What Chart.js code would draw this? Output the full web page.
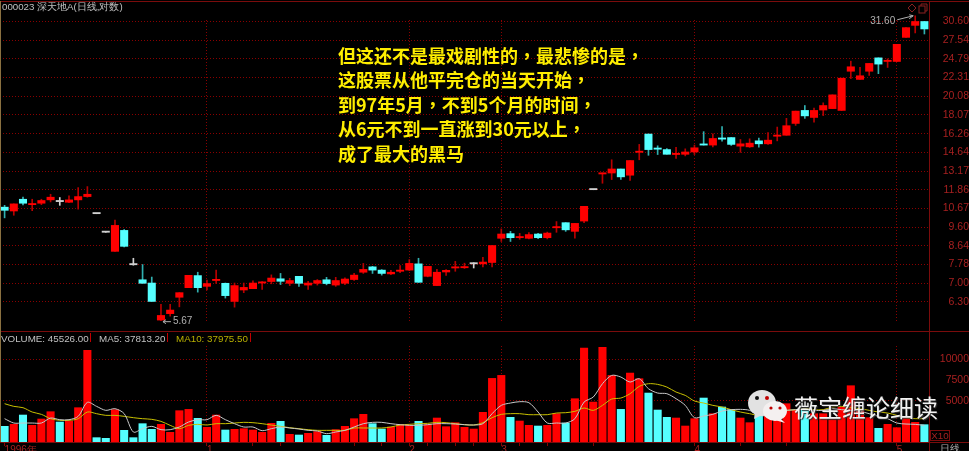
<!DOCTYPE html>
<html lang="zh">
<head>
<meta charset="utf-8">
<title>000023 深天地A</title>
<script src="https://cdn.jsdelivr.net/npm/chart.js@4/dist/chart.umd.min.js"></script>
<style>
html, body { margin: 0; padding: 0; background: #000; }
#stage { position: relative; width: 969px; height: 451px; overflow: hidden; background: #000; font-family: "Liberation Sans", Arial, sans-serif; }
#stage canvas { position: absolute; left: 0; }
.rule { position: absolute; background: #7a0c0c; }
.txt { position: absolute; white-space: nowrap; font-size: 9.8px; line-height: 12px; color: #c0c0c0; }
.up { position: absolute; top: 333px; width: 1px; height: 9px; background: #c00000; }
#story { position: absolute; left: 338px; top: 43px; color: #ffee00; font: 700 18px/24.4px "Noto Sans CJK TC", sans-serif; white-space: pre; }
#mark { position: absolute; left: 794px; top: 392px; color: #f2f2f2; font: 400 24px/30px "Noto Sans CJK SC", sans-serif; text-shadow: 1px 1px 1px #333; white-space: nowrap; }
</style>
</head>
<body>
<div id="stage">
  <canvas id="priceChart" width="969" height="331" style="top:0"></canvas>
  <canvas id="volumeChart" width="969" height="120" style="top:331px"></canvas>

  <div class="rule" style="left:0;top:1px;width:969px;height:1px"></div>
  <div class="rule" style="left:0;top:331px;width:969px;height:1px"></div>
  <div class="rule" style="left:0;top:442px;width:969px;height:1px"></div>
  <div class="rule" style="left:929px;top:1px;width:1px;height:450px"></div>
  <div class="rule" style="left:0;top:1px;width:1px;height:441px;background:#8a7040"></div>

  <div class="txt" style="left:2px;top:1px;font-size:9.7px">000023 深天地A(日线,对数)</div>
  <div class="txt" style="left:1px;top:333px">VOLUME: 45526.00</div><div class="up" style="left:90px"></div>
  <div class="txt" style="left:99px;top:333px">MA5: 37813.20</div><div class="up" style="left:167px"></div>
  <div class="txt" style="left:176px;top:333px;color:#b8b000">MA10: 37975.50</div><div class="up" style="left:250px"></div>
  <div class="txt" style="left:930px;top:430px;width:18px;height:9px;border:1px solid #7a0c0c;color:#a02020;line-height:9px;text-align:center">X10</div>
  <div class="txt" style="left:940px;top:443px;color:#b0b0b0">日线</div>

  <svg style="position:absolute;left:905px;top:3px" width="24" height="12" viewBox="0 0 24 12" fill="none" stroke="#8a2020">
    <path d="M7 1 L11 5 L7 9 L3 5 Z"/>
    <rect x="14" y="3" width="6" height="7"/>
    <path d="M16 3 V1 H22 V8 H20"/>
  </svg>

  <div id="story" lang="zh-TW">但这还不是最戏剧性的，最悲惨的是，
这股票从他平完仓的当天开始，
到97年5月，不到5个月的时间，
从6元不到一直涨到30元以上，
成了最大的黑马</div>

  <svg style="position:absolute;left:747px;top:389px" width="44" height="40" viewBox="0 0 44 40">
    <ellipse cx="15" cy="14" rx="14" ry="13" fill="#e2e2e2"/>
    <path d="M8 23 L7 30 L15 26 Z" fill="#e2e2e2"/>
    <circle cx="10" cy="9" r="2" fill="#111"/>
    <circle cx="20" cy="9" r="2" fill="#c00000"/>
    <ellipse cx="28" cy="22" rx="12" ry="10" fill="#f4f0f0"/>
    <path d="M33 29 L38 34 L28 31 Z" fill="#f4f0f0"/>
    <circle cx="24" cy="19" r="1.6" fill="#c00000"/>
    <circle cx="33" cy="19" r="1.6" fill="#c00000"/>
  </svg>
  <div id="mark">薇宝缠论细读</div>
</div>

<script>
'use strict';

// ─── Data ────────────────────────────────────────────────────────────────────

var opens = [
    10.75, 10.52, 11.24, 10.90, 10.99, 11.20, 11.09, 11.05, 11.20, 11.41,
    10.36, 9.33, 8.38, 9.43, 7.77, 7.14, 7.01, 5.69, 5.90, 6.47,
    6.83, 7.31, 6.88, 7.11, 7.00, 6.32, 6.74, 6.79, 7.01, 7.07,
    7.18, 7.00, 7.28, 6.93, 7.00, 7.14, 6.93, 7.00, 7.15, 7.45,
    7.68, 7.54, 7.38, 7.49, 7.54, 7.81, 7.28, 6.91, 7.46, 7.63,
    7.64, 7.81, 7.81, 7.87, 9.02, 9.26, 9.05, 9.02, 9.24, 9.05,
    9.57, 9.85, 9.38, 9.94, 11.86, 12.96, 13.03, 13.33, 12.87, 14.64,
    16.23, 14.96, 14.87, 14.46, 14.48, 14.67, 15.31, 15.25, 15.86, 15.91,
    15.16, 15.10, 15.62, 15.36, 16.03, 16.12, 17.23, 18.54, 17.82, 18.58,
    18.73, 18.54, 23.12, 22.08, 23.12, 24.93, 24.43, 24.43, 27.98, 29.94,
    30.60
];
var closes = [
    10.56, 10.95, 10.99, 10.95, 11.16, 11.37, 11.09, 11.20, 11.41, 11.56,
    10.36, 9.33, 9.70, 8.62, 7.77, 7.00, 6.32, 5.84, 6.02, 6.64,
    7.32, 6.83, 6.99, 7.14, 6.53, 6.91, 6.84, 7.01, 7.04, 7.21,
    7.08, 7.11, 7.00, 7.01, 7.11, 6.99, 7.11, 7.17, 7.33, 7.57,
    7.54, 7.40, 7.45, 7.54, 7.83, 7.04, 7.70, 7.45, 7.53, 7.65,
    7.68, 7.81, 7.89, 8.66, 9.24, 9.05, 9.10, 9.21, 9.05, 9.29,
    9.62, 9.46, 9.81, 10.80, 11.86, 13.03, 13.33, 12.75, 13.98, 14.72,
    14.87, 14.90, 14.48, 14.53, 14.67, 15.02, 15.25, 15.83, 15.77, 15.31,
    15.36, 15.42, 15.36, 15.68, 16.09, 17.01, 18.47, 17.98, 18.54, 19.06,
    20.24, 22.23, 23.71, 22.54, 24.16, 24.07, 24.52, 26.91, 29.56, 30.60,
    29.34
];
var highs = [
    10.86, 10.95, 11.37, 11.24, 11.24, 11.56, 11.35, 11.46, 12.00, 12.07,
    10.36, 9.33, 10.00, 9.48, 8.06, 7.78, 7.25, 6.22, 6.22, 6.64,
    7.32, 7.45, 7.13, 7.54, 7.01, 7.01, 7.01, 7.10, 7.07, 7.34,
    7.40, 7.20, 7.28, 7.08, 7.15, 7.24, 7.24, 7.22, 7.40, 7.83,
    7.70, 7.56, 7.53, 7.74, 8.00, 8.06, 7.70, 7.57, 7.56, 7.92,
    7.84, 7.86, 8.10, 8.66, 9.51, 9.38, 9.27, 9.31, 9.27, 9.34,
    9.91, 9.85, 9.81, 10.80, 11.86, 13.03, 14.04, 13.33, 13.98, 15.31,
    16.23, 15.19, 14.96, 15.05, 14.93, 15.25, 16.45, 16.26, 16.92, 15.91,
    15.74, 15.80, 15.86, 16.36, 16.88, 17.73, 18.47, 19.06, 18.80, 19.35,
    20.24, 22.23, 24.47, 23.62, 24.16, 24.93, 24.79, 26.91, 29.56, 31.60,
    30.60
];
var lows = [
    10.12, 10.27, 10.88, 10.54, 10.90, 11.07, 10.86, 11.03, 10.63, 11.37,
    10.36, 9.33, 8.38, 8.59, 7.75, 7.00, 6.32, 5.67, 5.82, 6.13,
    6.83, 6.66, 6.74, 6.99, 6.44, 6.12, 6.64, 6.79, 6.76, 6.98,
    6.95, 6.91, 6.88, 6.76, 6.93, 6.94, 6.88, 6.95, 7.11, 7.40,
    7.40, 7.33, 7.35, 7.43, 7.52, 7.04, 7.26, 6.91, 7.32, 7.49,
    7.61, 7.63, 7.68, 7.68, 8.86, 8.86, 8.97, 8.99, 9.00, 8.99,
    9.33, 9.38, 9.02, 9.85, 11.86, 12.30, 12.56, 12.56, 12.49, 14.04,
    14.40, 14.46, 14.48, 14.14, 14.35, 14.46, 15.25, 15.10, 15.60, 15.22,
    14.64, 15.05, 15.08, 15.31, 15.62, 16.12, 17.04, 17.73, 17.35, 18.01,
    18.73, 18.54, 22.19, 22.08, 22.58, 22.81, 23.62, 24.43, 27.98, 28.69,
    28.52
];

var volumes = [
    1894, 2136, 3264, 2015, 2781, 3667, 2418, 2539, 4151, 11083,
    524, 443, 3909, 1411, 524, 2217, 1531, 2136, 1169, 3788,
    3949, 2861, 1773, 3264, 1451, 1531, 1612, 1451, 1169, 2257,
    2499, 927, 846, 1048, 1249, 806, 1491, 1894, 2821, 3345,
    2217, 1572, 1814, 2096, 2015, 2499, 2096, 2902, 1854, 2337,
    1773, 1572, 3587, 7697, 8060, 2982, 2539, 2015, 1934, 2015,
    3426, 2297, 5239, 11365, 4836, 11445, 8060, 3949, 8342, 7657,
    5924, 3869, 2982, 2902, 1934, 2821, 5320, 3426, 4232, 3909,
    2902, 2337, 3184, 3708, 2620, 4635, 3829, 3829, 3426, 3426,
    2700, 4232, 6811, 3829, 2942, 1652, 2136, 1733, 2942, 2378,
    2096
];
var ma5 = [
    2821, 2297, 2297, 2297, 2297, 2902, 2700, 2700, 3103, 4796,
    4312, 3829, 4030, 3426, 1209, 1612, 1894, 1491, 1491, 1814,
    2418, 2700, 2700, 3224, 2700, 2217, 1814, 1814, 1370, 1612,
    1814, 1693, 1572, 1411, 1330, 1008, 1209, 1411, 1814, 2217,
    2378, 2378, 2217, 2096, 2015, 2015, 2096, 2217, 2217, 2176,
    2096, 2055, 2217, 3426, 4433, 4715, 4876, 4755, 3627, 2297,
    2297, 2297, 2821, 4836, 5441, 7053, 8060, 7859, 7254, 7657,
    6448, 5924, 5844, 5239, 4433, 2942, 3143, 3345, 3748, 3909,
    3949, 3829, 3224, 3224, 3627, 3829, 3909, 4030, 3829, 3829,
    4030, 3909, 3829, 3708, 3426, 3103, 2821, 2297, 2176, 2136,
    2015
];
var ma10 = [
    4635, 4312, 4151, 3627, 3345, 2821, 2620, 2620, 2821, 3627,
    3426, 3224, 3224, 3103, 2942, 2821, 2740, 2499, 2015, 1612,
    2015, 2136, 2055, 2217, 2217, 2297, 2378, 2337, 2217, 2055,
    1894, 1733, 1612, 1491, 1411, 1411, 1411, 1411, 1693, 1693,
    1693, 1693, 1814, 2055, 2136, 2217, 2257, 2378, 2337, 2217,
    2096, 2055, 2337, 2942, 3345, 3426, 3426, 3305, 3305, 3305,
    3506, 3546, 3708, 4111, 3829, 4433, 5199, 5320, 5844, 6730,
    7053, 6972, 6650, 6045, 5642, 4957, 4715, 4433, 4232, 3909,
    3627, 3426, 3224, 3426, 3627, 3829, 3909, 4030, 3909, 3909,
    4232, 4312, 4151, 4030, 3829, 3627, 3506, 3224, 2942, 2821,
    2821
];
// volume bars drawn cyan
var volumeDownIdx = [0, 2, 6, 10, 11, 13, 14, 15, 16, 21, 24, 30, 32, 35, 40, 41, 45, 55, 58, 61, 67, 70, 71, 72, 76, 78, 79, 82, 87, 95, 100];

var priceTicks = [30.60, 27.54, 24.79, 22.31, 20.08, 18.07, 16.26, 14.64, 13.17, 11.86, 10.67, 9.60, 8.64, 7.78, 7.00, 6.30];
var volumeTicks = [10000, 7500, 5000];
var volumeGrid = [10000, 5000];

var monthIdx = [0, 22, 44, 54, 75, 97];
var monthLabels = ['1996年', '1', '2', '3', '4', '5'];
var weekIdx = [27, 30, 38, 41, 46, 49, 51, 56, 59, 64, 80, 85];

// ─── Colours ─────────────────────────────────────────────────────────────────

var RED = '#ff0000';
var CYAN = '#55ffff';
var GREY = '#d0d0d0';
var WICK_RED = '#b80000';
var WICK_CYAN = '#30b0b0';
var GRID = '#8a0000';
var AXIS_TEXT = '#a82020';
var CLEAR = 'rgba(0,0,0,0)';

// ─── Helpers ─────────────────────────────────────────────────────────────────

var categories = opens.map(function(v, i) { return i; });

function candleColor(i, up, down, flat) {
    if (closes[i] > opens[i]) return up;
    if (closes[i] < opens[i]) return down;
    return flat;
}

function fixWidth(scale) { scale.width = 40; }

// small grey price callouts with an arrow, placed from the candle itself
var calloutPlugin = {
    id: 'callouts',
    afterDatasetsDraw: function(chart) {
        var c = chart.ctx;
        var x = chart.scales.x;
        var y = chart.scales.y;
        c.save();
        c.font = '10px "Liberation Sans", sans-serif';
        c.fillStyle = '#b0b0b0';
        c.strokeStyle = '#b0b0b0';
        c.lineWidth = 1;

        var iHigh = highs.indexOf(Math.max.apply(null, highs));
        var hx = x.getPixelForValue(iHigh);
        var hy = y.getPixelForValue(highs[iHigh]);
        c.textAlign = 'right';
        c.textBaseline = 'middle';
        c.fillText(highs[iHigh].toFixed(2), hx - 20, hy + 5);
        c.beginPath();
        c.moveTo(hx - 18, hy + 4);
        c.lineTo(hx - 2, hy);
        c.lineTo(hx - 6, hy - 1);
        c.moveTo(hx - 2, hy);
        c.lineTo(hx - 6, hy + 3);
        c.stroke();

        var iLow = lows.indexOf(Math.min.apply(null, lows));
        var lx = x.getPixelForValue(iLow);
        var ly = y.getPixelForValue(lows[iLow]);
        c.textAlign = 'left';
        c.fillText(lows[iLow].toFixed(2), lx + 12, ly + 1);
        c.beginPath();
        c.moveTo(lx + 10, ly + 1);
        c.lineTo(lx + 2, ly + 1);
        c.lineTo(lx + 5, ly - 1);
        c.moveTo(lx + 2, ly + 1);
        c.lineTo(lx + 5, ly + 3);
        c.stroke();
        c.restore();
    }
};

// ─── Price panel ─────────────────────────────────────────────────────────────

new Chart(document.getElementById('priceChart'), {
    type: 'bar',
    data: {
        labels: categories,
        datasets: [
            {
                label: 'wick',
                data: categories.map(function(i) { return [lows[i], highs[i]]; }),
                backgroundColor: categories.map(function(i) { return candleColor(i, WICK_RED, WICK_CYAN, GREY); }),
                barThickness: 1,
                grouped: false,
                clip: false,
                order: 2
            },
            {
                label: 'body',
                data: categories.map(function(i) { return [Math.min(opens[i], closes[i]), Math.max(opens[i], closes[i])]; }),
                backgroundColor: categories.map(function(i) { return candleColor(i, RED, CYAN, GREY); }),
                barThickness: 7.4,
                minBarLength: 1.2,
                grouped: false,
                clip: false,
                order: 1
            }
        ]
    },
    options: {
        responsive: false,
        animation: false,
        layout: { autoPadding: false, padding: { top: 20, right: 0, bottom: 10, left: 0 } },
        plugins: { legend: { display: false }, tooltip: { enabled: false } },
        scales: {
            x: {
                offset: true,
                afterFit: function(scale) { scale.height = 0; },
                ticks: { display: false, autoSkip: false },
                border: { display: false, dash: [1, 2] },
                grid: {
                    offset: false,
                    drawTicks: false,
                    color: function(c) { return monthIdx.indexOf(c.index) > 0 ? GRID : CLEAR; }
                }
            },
            y: {
                type: 'logarithmic',
                position: 'right',
                min: 5.66,
                max: 30.86,
                afterFit: fixWidth,
                afterBuildTicks: function(scale) {
                    scale.ticks = priceTicks.map(function(v) { return { value: v }; });
                },
                border: { display: false, dash: [1, 2] },
                // the tick mark is only there to push the labels to the right edge
                grid: { color: GRID, tickLength: 15, tickColor: CLEAR },
                ticks: {
                    autoSkip: false,
                    padding: 0,
                    crossAlign: 'far',
                    color: AXIS_TEXT,
                    font: { family: '"Liberation Sans", sans-serif', size: 10.5 },
                    callback: function(v) { return Number(v).toFixed(2); }
                }
            }
        }
    },
    plugins: [calloutPlugin]
});

// ─── Volume panel ────────────────────────────────────────────────────────────

new Chart(document.getElementById('volumeChart'), {
    type: 'bar',
    data: {
        labels: categories,
        datasets: [
            {
                type: 'line',
                label: 'MA5',
                data: ma5,
                borderColor: '#c8c8c8',
                borderWidth: 1,
                pointRadius: 0,
                tension: 0.3,
                order: 1
            },
            {
                type: 'line',
                label: 'MA10',
                data: ma10,
                borderColor: '#c8c000',
                borderWidth: 1,
                pointRadius: 0,
                tension: 0.3,
                order: 2
            },
            {
                label: 'VOLUME',
                data: volumes,
                backgroundColor: categories.map(function(i) { return volumeDownIdx.indexOf(i) >= 0 ? CYAN : RED; }),
                barThickness: 7.4,
                order: 3
            }
        ]
    },
    options: {
        responsive: false,
        animation: false,
        layout: { autoPadding: false, padding: { top: 15, right: 0, bottom: 0, left: 0 } },
        plugins: { legend: { display: false }, tooltip: { enabled: false } },
        scales: {
            x: {
                offset: true,
                afterFit: function(scale) { scale.height = 9; },
                border: { display: false, dash: [1, 2] },
                grid: {
                    offset: false,
                    tickLength: 4,
                    tickColor: function(c) {
                        return (monthIdx.indexOf(c.index) >= 0 || weekIdx.indexOf(c.index) >= 0) ? GRID : CLEAR;
                    },
                    color: function(c) { return monthIdx.indexOf(c.index) > 0 ? GRID : CLEAR; }
                },
                ticks: {
                    autoSkip: false,
                    maxRotation: 0,
                    padding: -2,
                    align: 'start',
                    color: AXIS_TEXT,
                    font: { family: '"Liberation Sans", sans-serif', size: 10 },
                    callback: function(v, i) {
                        var m = monthIdx.indexOf(i);
                        return m >= 0 ? monthLabels[m] : '';
                    }
                }
            },
            y: {
                position: 'right',
                min: 0,
                max: 11616,
                afterFit: fixWidth,
                afterBuildTicks: function(scale) {
                    scale.ticks = volumeTicks.map(function(v) { return { value: v }; });
                },
                border: { display: false, dash: [1, 2] },
                grid: {
                    tickLength: 11,
                    tickColor: CLEAR,
                    color: function(c) { return volumeGrid.indexOf(c.tick.value) >= 0 ? GRID : CLEAR; }
                },
                ticks: {
                    autoSkip: false,
                    padding: 0,
                    crossAlign: 'far',
                    color: AXIS_TEXT,
                    font: { family: '"Liberation Sans", sans-serif', size: 10.5 },
                    callback: function(v) { return String(v); }
                }
            }
        }
    }
});
</script>
</body>
</html>
